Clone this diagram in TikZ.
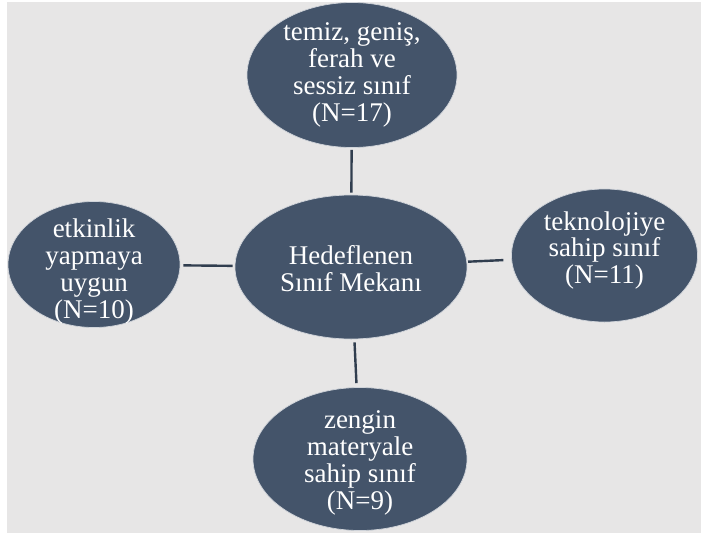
\documentclass[tikz,border=0pt]{standalone}
\usepackage{fontspec}
\setmainfont{Liberation Serif}
\usepackage{tikz}
\usetikzlibrary{shapes}
\usetikzlibrary{backgrounds}
\definecolor{slate}{HTML}{44546A}
\definecolor{slatedark}{HTML}{313E4F}
\definecolor{paper}{HTML}{E7E6E6}
\tikzset{
  blob/.style={ellipse,fill=slate,draw=white!75!slate,line width=0.7pt,inner sep=0pt},
  caption/.style={text=white,align=center,inner sep=0pt,font=\fontsize{27}{26.8}\selectfont},
  link/.style={draw=slatedark,line width=2.4pt}
}

\begin{document}
\begin{tikzpicture}[x=1pt,y=-1pt]
\useasboundingbox (0,0) rectangle (701,533);
\fill[paper] (7,2) rectangle (701,533);
\node[blob,minimum width=210,minimum height=145] (clean) at (352,75) {};
\node[blob,minimum width=232,minimum height=144] (hub) at (351,267) {};
\node[blob,minimum width=172,minimum height=126] (active) at (94,264.5) {};
\node[blob,minimum width=186,minimum height=133] (tech) at (604.5,255.5) {};
\node[blob,minimum width=214,minimum height=143] (rich) at (360,459) {};
\node[caption] (clean-t) at (clean) {temiz, geniş,\\ferah ve\\sessiz sınıf\\(N=17)};
\node[caption] (hub-t) at ([yshift=-2pt]hub) {Hedeflenen\\Sınıf Mekanı};
\node[caption] (active-t) at ([yshift=-7pt]active) {etkinlik\\yapmaya\\uygun\\(N=10)};
\node[caption] (tech-t) at ([yshift=5pt]tech) {teknolojiye\\sahip sınıf\\(N=11)};
\node[caption] (rich-t) at ([yshift=-4pt]rich) {zengin\\materyale\\sahip sınıf\\(N=9)};
\draw[link,shorten <=2pt,shorten >=2pt] (hub) -- (clean);
\draw[link,shorten <=2pt,shorten >=3pt] (hub) -- (active);
\draw[link,shorten <=1pt,shorten >=8pt] (hub) -- (tech);
\draw[link,shorten <=3pt,shorten >=4pt] (hub) -- (rich);
\end{tikzpicture}
\end{document}
